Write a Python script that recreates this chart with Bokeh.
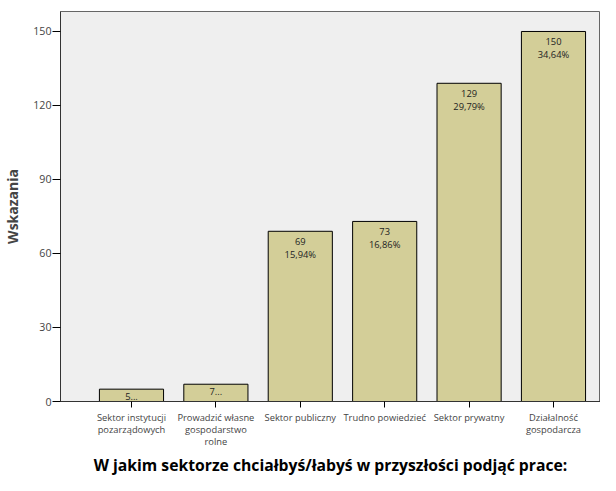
from bokeh.plotting import figure
from bokeh.models import ColumnDataSource, FixedTicker, Range1d, Title
from bokeh.embed import file_html
from bokeh.resources import INLINE
from bokeh.core.properties import value

categories = ["Sektor instytucji\npozarządowych", "Prowadzić własne\ngospodarstwo\nrolne",
              "Sektor publiczny", "Trudno powiedzieć", "Sektor prywatny",
              "Działalność\ngospodarcza"]
counts = [5, 7, 69, 73, 129, 150]
percents = ["1,15%", "1,62%", "15,94%", "16,86%", "29,79%", "34,64%"]
labels = ["5...", "7...", "69\n15,94%", "73\n16,86%", "129\n29,79%", "150\n34,64%"]
y_ticks = [0, 30, 60, 90, 120, 150]
x_title = "W jakim sektorze chciałbyś/łabyś w przyszłości podjąć prace:"
y_title = "Wskazania"

xs = list(range(1, len(categories) + 1))
src = ColumnDataSource(dict(x=xs, top=counts, lab=labels))

FONT = "Open Sans"
X0, X1, Y1 = 0.159, 6.557, 158.1
p = figure(width=600, height=475, output_backend="svg", toolbar_location=None,
           x_range=Range1d(X0, X1), y_range=Range1d(0, Y1),
           min_border_left=60, min_border_top=11, min_border_bottom=0, min_border_right=0)
p.border_fill_color = "white"
p.background_fill_color = "#efefef"
p.outline_line_color = "#666666"
p.grid.visible = False

p.vbar(x="x", top="top", width=0.76, bottom=0, source=src,
       fill_color="#d3ce98", line_color="black", line_width=1)
p.text(x="x", y="top", text="lab", source=src, text_align="center", text_baseline="top",
       y_offset=4, text_font=value(FONT), text_font_size="7pt", text_color="#222222",
       text_line_height=1.0)

p.yaxis.ticker = FixedTicker(ticks=y_ticks)
p.yaxis.axis_label = y_title
p.yaxis.axis_label_text_font = FONT
p.yaxis.axis_label_text_font_style = "bold"
p.yaxis.axis_label_text_font_size = "10.5pt"
p.yaxis.axis_label_standoff = 8
p.yaxis.major_label_text_font = FONT
p.yaxis.major_label_text_font_size = "8pt"
p.yaxis.major_label_standoff = 1
p.yaxis.major_tick_out = 8
p.yaxis.major_tick_in = 0
p.yaxis.minor_tick_line_color = None
p.yaxis.axis_line_color = "#333333"

p.xaxis.ticker = FixedTicker(ticks=xs)
p.xaxis.major_label_overrides = {x: c for x, c in zip(xs, categories)}
p.xaxis.major_label_text_font = FONT
p.xaxis.major_label_text_font_size = "7pt"
p.xaxis.major_label_text_line_height = 0.95
p.xaxis.major_label_standoff = 3
p.xaxis.major_tick_out = 6
p.xaxis.major_tick_in = 0
p.xaxis.minor_tick_line_color = None
p.xaxis.axis_line_color = "#333333"

p.add_layout(Title(text=x_title, align="center", text_font=FONT, text_font_style="bold",
                   text_font_size="11.8pt", text_color="black", standoff=0, offset=0),
             "below")

open("out.html", "w").write(file_html(p, INLINE))
